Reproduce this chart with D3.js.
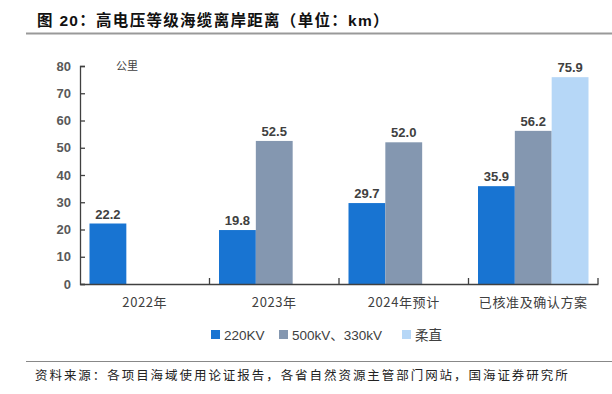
<!DOCTYPE html>
<html><head><meta charset="utf-8">
<script src="https://cdn.jsdelivr.net/npm/d3@7"></script>
<style>body{margin:0;background:#fff}svg{display:block}</style>
</head><body><svg id="c" width="612" height="394"></svg>
<script>
const categories = ["2022年","2023年","2024年预计","已核准及确认方案"];
const seriesNames = ["220KV","500kV、330kV","柔直"];
const s220 = [22.2, 19.8, 29.7, 35.9];
const s500 = [null, 52.5, 52.0, 56.2];
const sRou = [null, null, null, 75.9];
const yTicks = [0,10,20,30,40,50,60,70,80];
const colors = ["#1874d2","#8497b0","#b6d7f7"];
const title = "图 20：高电压等级海缆离岸距离（单位：km）";
const unit = "公里";
const source = "资料来源：各项目海域使用论证报告，各省自然资源主管部门网站，国海证券研究所";

const svg = d3.select("#c");
const L=80,R=598,T=66,B=284;
const x = d3.scaleBand().domain(categories).range([L,R]).paddingInner(0).paddingOuter(0);
const y = d3.scaleLinear().domain([0,80]).range([B,T]);
const pad = 9.5;
const xs2 = d3.scaleBand().domain(seriesNames).range([pad, x.bandwidth()-pad]);

const cjk = "'Noto Sans CJK SC','Noto Sans',sans-serif";
// title
svg.append("text").attr("x",37).attr("y",26).attr("font-family","'Liberation Sans','Noto Sans CJK SC',sans-serif")
  .attr("font-weight","bold").attr("font-size",15.5).attr("letter-spacing",1.3).attr("fill","#111").text(title);
svg.append("line").attr("x1",26).attr("x2",612).attr("y1",33.5).attr("y2",33.5).attr("stroke","#999").attr("stroke-width",2);
// footer
svg.append("line").attr("x1",26).attr("x2",612).attr("y1",361.5).attr("y2",361.5).attr("stroke","#888").attr("stroke-width",1.2);
svg.append("text").attr("x",35).attr("y",380).attr("font-family",cjk).attr("font-size",12.5).attr("letter-spacing",1.95)
  .attr("fill","#222").text(source);

// bars
const series = [s220,s500,sRou];
series.forEach((arr,si)=>{
  const data = categories.map((c,i)=>({c,v:arr[i]})).filter(d=>d.v!=null);
  svg.append("g").selectAll("rect").data(data).join("rect")
    .attr("x",d=>x(d.c)+xs2(seriesNames[si]))
    .attr("width",xs2.bandwidth())
    .attr("y",d=>y(d.v)).attr("height",d=>y(0)-y(d.v))
    .attr("fill",colors[si]);
  svg.append("g").selectAll("text").data(data).join("text")
    .attr("x",d=>x(d.c)+xs2(seriesNames[si])+xs2.bandwidth()/2)
    .attr("y",d=>y(d.v)-5).attr("text-anchor","middle")
    .attr("font-family","'Liberation Sans',sans-serif").attr("font-weight","bold")
    .attr("font-size",13).attr("fill","#404040").text(d=>d.v.toFixed(1));
});

// y axis
const ya = svg.append("g").attr("transform",`translate(${L},0)`)
  .call(d3.axisLeft(y).tickValues(yTicks).tickSize(-5).tickPadding(9));
ya.select(".domain").attr("stroke","#404040").attr("stroke-width",1.3);
ya.selectAll(".tick line").attr("stroke","#404040").attr("stroke-width",1.3);
ya.selectAll("text").attr("font-family","'Liberation Sans',sans-serif").attr("font-weight","bold")
  .attr("font-size",13).attr("fill","#595959");

// x axis
const xa = svg.append("g").attr("transform",`translate(0,${B})`)
  .call(d3.axisBottom(x).tickSize(0).tickPadding(14));
xa.select(".domain").attr("stroke","#404040").attr("stroke-width",1.3);
xa.selectAll("text").attr("font-family",cjk).attr("font-size",13).attr("letter-spacing",0.6).attr("fill","#404040");
svg.append("g").selectAll("line").data(categories.slice(1).concat(["__end"])).join("line")
  .attr("x1",d=>d==="__end"?R:x(d)).attr("x2",d=>d==="__end"?R:x(d))
  .attr("y1",B).attr("y2",B-6).attr("stroke","#404040").attr("stroke-width",1.3);

// unit
svg.append("text").attr("x",116).attr("y",70).attr("font-family",cjk).attr("font-size",11).attr("fill","#404040").text(unit);

// legend
const lg = svg.append("g");
const lx = [211,279,402];
seriesNames.forEach((n,i)=>{
  lg.append("rect").attr("x",lx[i]).attr("y",330).attr("width",9).attr("height",9).attr("fill",colors[i]);
  lg.append("text").attr("x",lx[i]+13).attr("y",339.5).attr("font-family","'Liberation Sans','Noto Sans CJK SC',sans-serif")
    .attr("font-size",13.5).attr("fill","#404040").text(n);
});
</script></body></html>
